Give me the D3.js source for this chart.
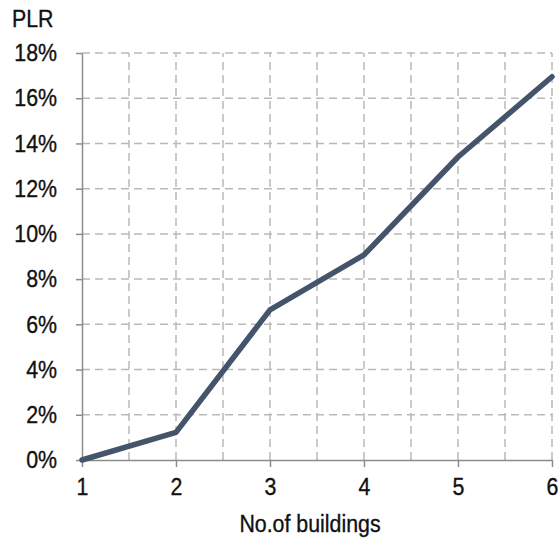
<!DOCTYPE html>
<html><head><meta charset="utf-8">
<script src="https://cdn.jsdelivr.net/npm/d3@7"></script>
<style>body{margin:0;background:#fff}text{font-family:"Liberation Sans",Arial,sans-serif;fill:#111;stroke:#111;stroke-width:0.35px}</style>
</head><body>
<svg id="c" width="559" height="539"></svg>
<script>
const buildings = [1, 2, 3, 4, 5, 6];
const plr = [0.0, 1.22, 6.64, 9.07, 13.4, 16.95];
const yTicks = [0, 2, 4, 6, 8, 10, 12, 14, 16, 18];
const xGrid = [1.5, 2, 2.5, 3, 3.5, 4, 4.5, 5, 5.5, 6];
const yTitle = "PLR";
const xTitle = "No.of buildings";

const FS = 24, SX = 0.89;
function squeeze(sel) {
  sel.each(function () {
    const t = d3.select(this);
    const ax = +t.attr("x") || 0;
    t.attr("transform", `translate(${ax * (1 - SX)},0) scale(${SX},1)`);
  });
}

const svg = d3.select("#c");
const m = {l: 82, r: 7, t: 53, b: 79};
const W = 559, H = 539;
const x = d3.scaleLinear().domain([1, 6]).range([m.l, W - m.r]);
const y = d3.scaleLinear().domain([0, 18]).range([H - m.b, m.t]);

const grid = svg.append("g").attr("stroke", "#b9b9b9").attr("stroke-width", 1.5).attr("stroke-dasharray", "8,5");
grid.selectAll(".h").data(yTicks.filter(d => d > 0)).join("line")
  .attr("x1", x(1)).attr("x2", x(6)).attr("y1", d => y(d)).attr("y2", d => y(d));
grid.selectAll(".v").data(xGrid).join("line")
  .attr("x1", d => x(d)).attr("x2", d => x(d)).attr("y1", y(0)).attr("y2", y(18));

const ya = svg.append("g").attr("transform", `translate(${x(1)},0)`)
  .call(d3.axisLeft(y).tickValues(yTicks).tickFormat(d => d + "%").tickSize(6).tickSizeOuter(0).tickPadding(19));
const xa = svg.append("g").attr("transform", `translate(0,${y(0)})`)
  .call(d3.axisBottom(x).tickValues(buildings).tickFormat(d3.format("d")).tickSize(7).tickSizeOuter(0).tickPadding(11));
[ya, xa].forEach(a => {
  a.selectAll("path,line").attr("stroke", "#8c8c8c").attr("stroke-width", 1.5);
  a.selectAll("text").attr("font-size", FS).attr("fill", "#111").call(squeeze);
});

svg.append("path").datum(buildings.map((b, i) => [b, plr[i]]))
  .attr("fill", "none").attr("stroke", "#44546a").attr("stroke-width", 5.5)
  .attr("stroke-linejoin", "round").attr("stroke-linecap", "round")
  .attr("d", d3.line().x(d => x(d[0])).y(d => y(d[1])));

svg.append("text").attr("x", 12).attr("y", 27).attr("font-size", FS).text(yTitle).call(squeeze);
svg.append("text").attr("x", 310).attr("y", 532).attr("text-anchor", "middle").attr("font-size", FS).text(xTitle).call(squeeze);
</script>
</body></html>
